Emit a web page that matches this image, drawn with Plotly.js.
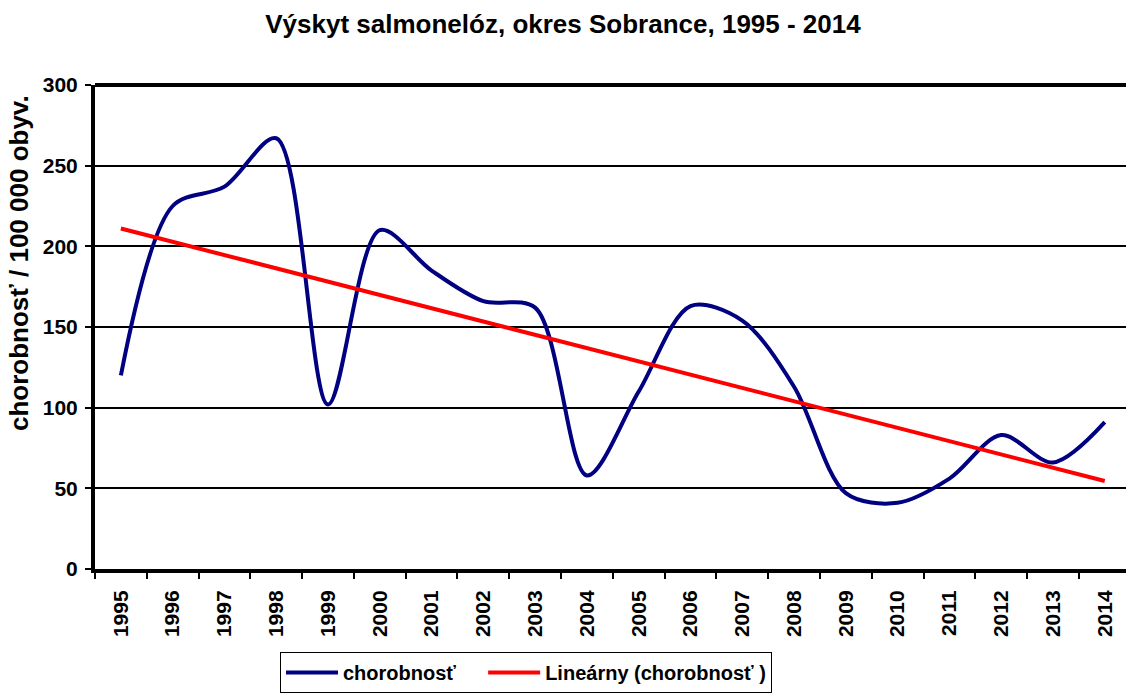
<!DOCTYPE html>
<html>
<head>
<meta charset="utf-8">
<script src="https://cdn.plot.ly/plotly-3.0.1.min.js"></script>
<style>html,body{margin:0;padding:0;background:#fff;}#chart{width:1126px;height:693px;}</style>
</head>
<body>
<div id="chart"></div>
<script>
// Data
var years = ["1995","1996","1997","1998","1999","2000","2001","2002","2003","2004",
             "2005","2006","2007","2008","2009","2010","2011","2012","2013","2014"];
var chorobnost = [120, 225, 237, 267, 102, 210, 185, 166, 162, 58,
                  110, 163, 154, 113, 47, 41, 56, 83, 66, 91];
var yTicks = [0, 50, 100, 150, 200, 250, 300];

// Linear trend (least squares) of the series, like Excel's "Lineárny" trendline
var n = chorobnost.length, sx = 0, sy = 0, sxx = 0, sxy = 0;
for (var i = 0; i < n; i++) { sx += i; sy += chorobnost[i]; sxx += i * i; sxy += i * chorobnost[i]; }
var slope = (n * sxy - sx * sy) / (n * sxx - sx * sx);
var intercept = (sy - slope * sx) / n;
var trend = years.map(function (_, k) { return intercept + slope * k; });

var FONT = "Liberation Sans, Arial, sans-serif";
var PAD = "\u00A0\u00A0\u00A0\u00A0";

var traces = [
  {x: years, y: chorobnost, type: "scatter", mode: "lines", name: "chorobnosť" + PAD,
   line: {color: "#000080", width: 4, shape: "spline", smoothing: 0.9}},
  {x: years, y: trend, type: "scatter", mode: "lines", name: "Lineárny (chorobnosť )",
   line: {color: "#FF0000", width: 4}}
];

var layout = {
  width: 1126, height: 693,
  margin: {l: 95, r: 0, t: 85, b: 120},
  paper_bgcolor: "#fff", plot_bgcolor: "#fff",
  font: {family: FONT, color: "#000", size: 20, weight: "bold"},
  title: {text: "Výskyt salmonelóz, okres Sobrance, 1995 - 2014",
          font: {family: FONT, size: 26, weight: "bold", color: "#000"},
          xref: "container", x: 0.5, xanchor: "center",
          yref: "container", y: 1 - 24 / 693, yanchor: "middle"},
  xaxis: {type: "category", range: [-0.5, 19.41], tickson: "boundaries",
          showgrid: false, zeroline: false,
          showline: true, linecolor: "#000", linewidth: 4,
          ticks: "outside", ticklen: 6, tickwidth: 2, tickcolor: "#000",
          tickangle: -90, ticklabelstandoff: 9,
          tickfont: {family: FONT, size: 21, weight: "bold", color: "#000"},
          fixedrange: true},
  yaxis: {range: [0, 300], tickvals: yTicks, ticktext: yTicks.map(String),
          showgrid: true, gridcolor: "#000", gridwidth: 2, zeroline: false,
          showline: true, linecolor: "#000", linewidth: 4,
          ticks: "outside", ticklen: 6, tickwidth: 2, tickcolor: "#000",
          ticklabelstandoff: 3,
          tickfont: {family: FONT, size: 21, weight: "bold", color: "#000"},
          fixedrange: true},
  shapes: [
    {type: "line", xref: "paper", yref: "paper", x0: 0, x1: 1, y0: 1, y1: 1,
     line: {color: "#000", width: 4}}
  ],
  annotations: [
    {text: "chorobnosť / 100 000 obyv.", xref: "paper", yref: "paper",
     x: (18.5 - 95) / 1031, y: (573 - 265) / 488, xanchor: "center", yanchor: "middle",
     textangle: -90, showarrow: false,
     font: {family: FONT, size: 26, weight: "bold", color: "#000"}}
  ],
  showlegend: true,
  legend: {orientation: "h", x: (280 - 95) / 1031, xanchor: "left",
           y: (573 - 657) / 488, yanchor: "top", itemwidth: 52,
           bgcolor: "#fff", bordercolor: "#000", borderwidth: 1,
           font: {family: FONT, size: 20, weight: "bold", color: "#000"}}
};

Plotly.newPlot("chart", traces, layout, {displayModeBar: false, staticPlot: true});
</script>
</body>
</html>
